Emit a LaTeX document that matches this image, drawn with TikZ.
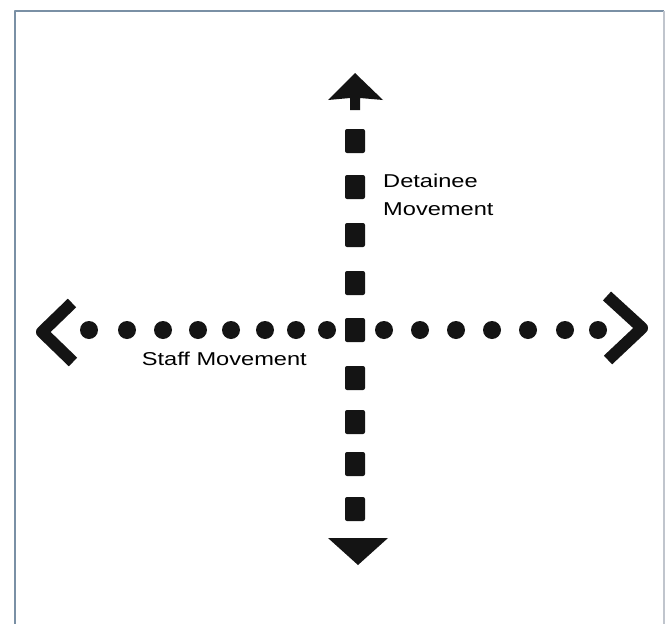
\documentclass[tikz,border=0pt]{standalone}
\usepackage{fontspec}
\usepackage{tikz}
\usetikzlibrary{arrows.meta,positioning,calc}
\newfontfamily\lblfont[FakeStretch=1.27]{Liberation Sans}

\begin{document}
\begin{tikzpicture}[
        x=1pt, y=-1pt, % coordenadas en pixeles de la imagen
        line join=round
    ]

        % --- COLORES ---
        \definecolor{framegray}{RGB}{122, 144, 165}
        \definecolor{framelight}{RGB}{192, 197, 205}
        \definecolor{inkblack}{RGB}{20, 20, 20}

        % --- ESTILOS ---
        \tikzset{
            dotmark/.style={fill=inkblack},
            dashmark/.style={fill=inkblack, rounded corners=2pt},
            chevron/.style={draw=inkblack, line width=12pt, line cap=butt},
            headfill/.style={fill=inkblack},
            movelabel/.style={font=\lblfont\fontsize{18.6}{28}\selectfont,
                inner sep=0pt, align=left}
        }

        % --- MARCO ---
        \useasboundingbox (0,0) rectangle (665,624);
        \fill[white] (0,0) rectangle (665,624);
        \draw[framegray, line width=1.6pt] (15,624) -- (15,11) -- (664,11);
        \draw[framelight, line width=1.4pt] (664,11) -- (664,624);

        % --- PUNTOS CLAVE ---
        \coordinate (Centro) at (355,330);
        \coordinate (Arriba) at (355,73);
        \coordinate (Abajo) at (358,565);
        \coordinate (Izq) at (42,332);
        \coordinate (Der) at (642,328);

        % --- MOVIMIENTO DEL PERSONAL (PUNTOS) ---
        \foreach \x in {89,127,163,198,231,265,296,327,384,420,456,492,528,565,598}
            \fill[dotmark] (\x,330) circle (9);

        % --- MOVIMIENTO DE DETENIDOS (TRAZOS) ---
        \foreach \y in {141,187,235,283,330,378,422,464,509}
            \fill[dashmark] (345,\y-12) rectangle (365,\y+12);

        % --- PUNTAS DE FLECHA ---
        \fill[headfill] (Arriba) -- (383,100) -- (360,98) -- (360,110)
            -- (350,110) -- (350,98) -- (328,100) -- cycle;
        \fill[headfill] (Abajo) -- (328,538) -- (388,538) -- cycle;
        \draw[chevron] (72,303) -- (Izq) -- (73,362);
        \draw[chevron] (607,296) -- (Der) -- (608,360);

        % --- ETIQUETAS ---
        \node[movelabel, anchor=base west] (detainee) at (383,215)
            {Detainee\\Movement};
        \node[movelabel, anchor=base east] (staff) at (307,365)
            {Staff Movement};

    \end{tikzpicture}
\end{document}
